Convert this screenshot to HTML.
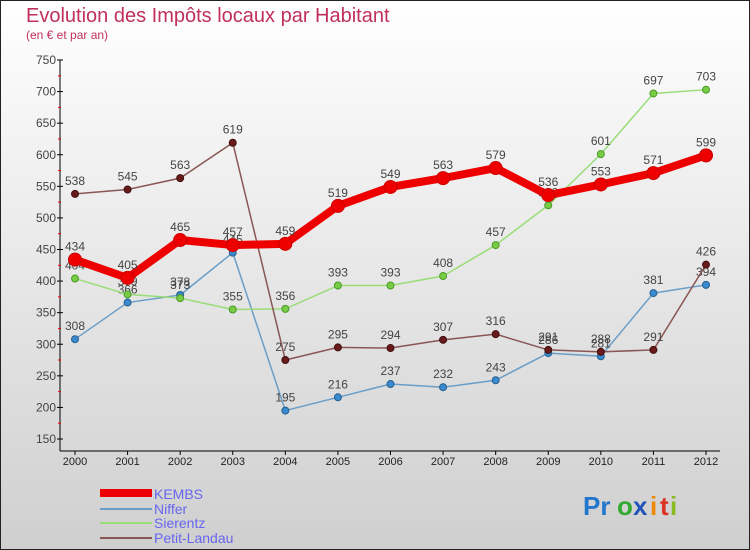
<!DOCTYPE html>
<html><head><meta charset="utf-8"><style>
body{margin:0;width:750px;height:550px;overflow:hidden;font-family:"Liberation Sans",sans-serif}
svg{display:block}
</style></head><body>
<svg width="750" height="550" xmlns="http://www.w3.org/2000/svg">
<defs><linearGradient id="bg" x1="0" y1="0" x2="0" y2="1"><stop offset="0" stop-color="#ffffff"/><stop offset="1" stop-color="#cfcfcf"/></linearGradient></defs>
<rect x="0.5" y="0.5" width="749" height="549" fill="url(#bg)" stroke="#222"/>
<text x="26" y="22" font-size="20" fill="#c0305a">Evolution des Impôts locaux par Habitant</text>
<text x="26" y="39" font-size="12" fill="#c0305a">(en € et par an)</text>
<g id="axes"></g>
<g id="series"></g>
<g>
<rect x="100" y="489" width="52" height="8" fill="#e00"/>
<text x="154" y="499" font-size="14" fill="#6666ee">KEMBS</text>
<line x1="100" y1="509" x2="152" y2="509" stroke="#6a9ec8" stroke-width="2"/>
<text x="154" y="514" font-size="14" fill="#6666ee">Niffer</text>
<line x1="100" y1="523" x2="152" y2="523" stroke="#99dd77" stroke-width="2"/>
<text x="154" y="528" font-size="14" fill="#6666ee">Sierentz</text>
<line x1="100" y1="538" x2="152" y2="538" stroke="#8a5555" stroke-width="2"/>
<text x="154" y="543" font-size="14" fill="#6666ee">Petit-Landau</text>
</g>
<g font-size="26" font-weight="bold">
<text x="583" y="515" fill="#2277cc">Pr</text><text x="617" y="515" fill="#33aa33">o</text><text x="633" y="515" fill="#2255bb">x</text><text x="650" y="515" fill="#ee8800">i</text><text x="660" y="515" fill="#dd3322">t</text><text x="670" y="515" fill="#88bb22">i</text>
</g>
</svg>
<script>
const years=["2000","2001","2002","2003","2004","2005","2006","2007","2008","2009","2010","2011","2012"];
const yTicks=[150,200,250,300,350,400,450,500,550,600,650,700,750];
const kembs=[434,405,465,457,459,519,549,563,579,536,553,571,599];
const niffer=[308,366,378,445,195,216,237,232,243,286,281,381,394];
const sierentz=[404,379,373,355,356,393,393,408,457,520,601,697,703];
const petitLandau=[538,545,563,619,275,295,294,307,316,291,288,291,426];
const NS="http://www.w3.org/2000/svg";
const X=i=>75+i*(706-75)/12;
const Y=v=>439-(v-150)*(379/600);
function mk(tag,attrs,parent){const e=document.createElementNS(NS,tag);for(const k in attrs)e.setAttribute(k,attrs[k]);parent.appendChild(e);return e;}
const ax=document.getElementById('axes');
let a=mk('line',{x1:60,y1:Y(750),x2:60,y2:451,stroke:'#000'},ax);


a=mk('line',{x1:60,y1:451,x2:720,y2:451,stroke:'#000'},ax);


yTicks.forEach(v=>{
  mk('line',{x1:57,y1:Y(v),x2:63,y2:Y(v),stroke:'#000'},ax);
  if(v<750)mk('line',{x1:58,y1:Y(v+25),x2:61,y2:Y(v+25),stroke:'#e00'},ax);
  const t=mk('text',{x:56,y:Y(v)+4,'font-size':12,fill:'#444','text-anchor':'end'},ax);
  t.textContent=v;
  
  
});
years.forEach((y,i)=>{
  mk('line',{x1:X(i),y1:451,x2:X(i),y2:455,stroke:'#000'},ax);
  const t=mk('text',{x:X(i),y:465,'font-size':11,fill:'#222','text-anchor':'middle'},ax);
  t.textContent=y;
  
  
});
const sg=document.getElementById('series');
function draw(name,data,color,w,r,dot,dotStroke){
  const g=mk('g',{},sg);
  
  
  const l=mk('polyline',{points:data.map((v,i)=>X(i)+','+Y(v)).join(' '),fill:'none',stroke:color,'stroke-width':w,'stroke-linejoin':'round'},g);
  
  
  data.forEach((v,i)=>{
    const c=mk('circle',{cx:X(i),cy:Y(v),r:r,fill:dot,stroke:dotStroke,'stroke-width':1},g);
    
    
    const t=mk('text',{x:X(i),y:Y(v)-9,'font-size':12,fill:'#444','text-anchor':'middle'},g);
    t.textContent=v;
    
    
  });
}
draw('niffer',niffer,'#6a9ec8',1.5,3.5,'#3a8ad0','#24608f');
draw('sierentz',sierentz,'#99dd77',1.5,3.5,'#77cc44','#4a9a2a');
draw('petit-landau',petitLandau,'#8a5555',1.5,3.5,'#6a1a1a','#401010');
draw('kembs',kembs,'#ee0000',8,6.5,'#ee0000','#cc0000');
</script>
</body></html>
